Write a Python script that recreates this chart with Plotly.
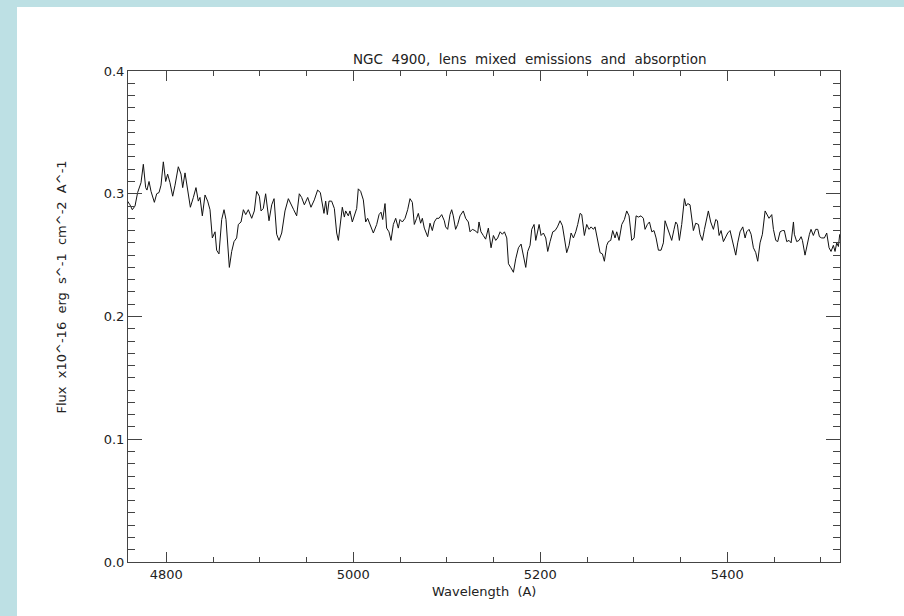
import plotly.graph_objects as go

wavelength = [
    4757.6, 4761.1, 4763.6, 4766.5, 4769.3, 4772.9, 4775.4, 4777.9, 4779.3, 4781.5,
    4783.6, 4787.2, 4789.7, 4792.2, 4794.3, 4796.8, 4799.3, 4801.4, 4803.9, 4806.8,
    4809.3, 4812.8, 4815.7, 4817.5, 4820.0, 4822.5, 4825.7, 4828.9, 4831.7, 4834.2,
    4836.0, 4838.5, 4841.4, 4844.2, 4846.7, 4849.2, 4852.1, 4853.8, 4856.3, 4859.2,
    4861.7, 4863.8, 4867.4, 4869.9, 4872.4, 4875.2, 4877.0, 4879.9, 4882.4, 4884.9,
    4887.7, 4891.3, 4894.1, 4896.6, 4899.5, 4901.3, 4903.7, 4906.2, 4909.8, 4912.7,
    4915.2, 4918.0, 4920.5, 4923.4, 4926.9, 4930.5, 4933.3, 4936.2, 4939.4, 4942.2,
    4944.7, 4947.6,
    4951.2, 4954.7, 4958.3, 4961.8, 4964.7, 4966.8, 4968.6, 4970.4, 4972.2, 4974.0,
    4976.8, 4979.7, 4982.2, 4984.0, 4986.1, 4988.2, 4990.4, 4991.8, 4994.6, 4996.4,
    4998.9, 5001.8, 5003.6, 5005.3, 5007.8, 5010.7, 5013.2, 5015.3, 5017.8, 5021.4,
    5025.0, 5027.5, 5029.6, 5031.4, 5033.9, 5035.6, 5038.1, 5040.3, 5042.8, 5045.3,
    5048.1, 5049.9, 5052.4, 5055.3, 5058.1, 5060.6, 5063.1, 5065.2, 5067.7, 5069.5,
    5072.0, 5073.8, 5075.9, 5079.5, 5082.0, 5084.5, 5086.6, 5089.1, 5091.6, 5094.5,
    5097.3, 5098.7, 5100.9, 5103.4, 5105.2, 5106.9, 5109.4, 5111.6, 5114.1, 5117.6,
    5120.1, 5123.0, 5124.8, 5127.3, 5130.1, 5133.0, 5134.4, 5136.5, 5139.0, 5141.5,
    5144.4,
    5147.3, 5149.8, 5152.3, 5154.4, 5157.0, 5159.4, 5161.6, 5164.1, 5165.9, 5168.3,
    5171.2, 5173.7, 5176.6, 5179.4, 5181.9, 5184.4, 5186.5, 5189.0, 5190.8, 5193.3,
    5195.1, 5197.2, 5198.7, 5200.8, 5203.3, 5205.8, 5207.9, 5210.4, 5213.3, 5215.8,
    5218.3, 5221.1, 5223.6, 5225.7, 5228.2, 5230.7, 5232.9, 5235.4, 5237.9, 5240.0,
    5242.5, 5244.3, 5247.1, 5249.6, 5252.1, 5254.3, 5256.8, 5258.5, 5261.4, 5263.9,
    5266.4, 5268.5, 5271.0, 5272.8, 5275.3, 5277.4, 5279.9, 5281.7, 5284.2, 5287.1,
    5289.9, 5292.4, 5294.9, 5297.8, 5300.3, 5302.4, 5304.9, 5307.7, 5310.2, 5312.0,
    5314.5, 5316.7, 5319.2, 5321.6, 5323.8, 5326.3, 5329.1, 5331.6,
    5333.4, 5336.3, 5338.7, 5340.5, 5343.0, 5344.8, 5346.6, 5348.7, 5351.2, 5353.0,
    5354.1, 5355.9, 5357.6, 5360.1, 5361.9, 5363.7, 5366.2, 5369.1, 5370.8, 5373.3,
    5375.5, 5378.0, 5379.7, 5382.2, 5385.1, 5387.6, 5389.4, 5391.2, 5393.3, 5395.8,
    5398.3, 5400.4, 5402.9, 5404.7, 5406.8, 5409.0, 5411.1, 5413.6, 5416.5, 5419.0,
    5420.7, 5423.2, 5425.4, 5427.9, 5430.4, 5432.5, 5435.0, 5437.5, 5440.4, 5442.5,
    5444.6, 5447.5, 5449.3, 5451.8, 5453.9, 5456.4, 5458.9, 5461.0, 5463.5, 5466.0,
    5468.2, 5470.7, 5471.7, 5474.2, 5476.7, 5478.9, 5480.3, 5483.1, 5486.0, 5487.8,
    5489.5, 5492.0, 5494.5, 5496.7, 5498.5, 5500.9, 5503.8, 5506.3, 5508.8, 5510.9,
    5513.4, 5515.2, 5517.0, 5518.8, 5520.2,
]

flux = [
    0.295, 0.291, 0.287, 0.290, 0.301, 0.309, 0.324, 0.305, 0.303, 0.310,
    0.302, 0.293, 0.300, 0.301, 0.307, 0.326, 0.310, 0.316, 0.309, 0.298,
    0.307, 0.322, 0.316, 0.305, 0.317, 0.306, 0.289, 0.297, 0.305, 0.294,
    0.297, 0.282, 0.299, 0.294, 0.287, 0.264, 0.269, 0.254, 0.251, 0.279,
    0.287, 0.279, 0.240, 0.253, 0.261, 0.264, 0.275, 0.277, 0.287, 0.283,
    0.287, 0.280, 0.286, 0.302, 0.298, 0.286, 0.288, 0.300, 0.278, 0.291,
    0.296, 0.267, 0.262, 0.268, 0.286, 0.296, 0.292, 0.287, 0.282, 0.300,
    0.297, 0.291,
    0.297, 0.289, 0.295, 0.303, 0.301, 0.290, 0.284, 0.294, 0.283, 0.294,
    0.294, 0.288, 0.268, 0.262, 0.275, 0.289, 0.281, 0.286, 0.282, 0.286,
    0.277, 0.284, 0.288, 0.304, 0.302, 0.295, 0.277, 0.280, 0.275, 0.268,
    0.275, 0.283, 0.285, 0.279, 0.292, 0.272, 0.269, 0.262, 0.275, 0.280,
    0.272, 0.279, 0.277, 0.280, 0.287, 0.296, 0.293, 0.275, 0.280, 0.284,
    0.276, 0.280, 0.272, 0.265, 0.276, 0.270, 0.277, 0.280, 0.280, 0.283,
    0.278, 0.273, 0.271, 0.283, 0.287, 0.282, 0.271, 0.275, 0.282, 0.286,
    0.280, 0.277, 0.269, 0.271, 0.270, 0.268, 0.277, 0.269, 0.266, 0.263,
    0.272,
    0.256, 0.266, 0.262, 0.264, 0.269, 0.267, 0.269, 0.264, 0.243, 0.240,
    0.236, 0.247, 0.256, 0.259, 0.250, 0.240, 0.253, 0.258, 0.271, 0.275,
    0.262, 0.270, 0.275, 0.266, 0.268, 0.264, 0.253, 0.261, 0.269, 0.270,
    0.273, 0.278, 0.274, 0.264, 0.252, 0.258, 0.268, 0.264, 0.269, 0.275,
    0.284, 0.283, 0.266, 0.275, 0.271, 0.273, 0.271, 0.273, 0.261, 0.252,
    0.251, 0.245, 0.258, 0.261, 0.262, 0.270, 0.264, 0.269, 0.262, 0.275,
    0.279, 0.286, 0.282, 0.262, 0.264, 0.282, 0.281, 0.282, 0.280, 0.271,
    0.275, 0.277, 0.269, 0.270, 0.264, 0.254, 0.254, 0.260,
    0.278, 0.271, 0.267, 0.262, 0.271, 0.277, 0.275, 0.262, 0.275, 0.288,
    0.296, 0.290, 0.292, 0.291, 0.280, 0.270, 0.276, 0.275, 0.267, 0.262,
    0.271, 0.279, 0.286, 0.277, 0.271, 0.279, 0.278, 0.266, 0.270, 0.261,
    0.265, 0.268, 0.270, 0.264, 0.256, 0.250, 0.260, 0.269, 0.273, 0.264,
    0.269, 0.271, 0.267, 0.256, 0.252, 0.245, 0.260, 0.267, 0.286, 0.283,
    0.280, 0.283, 0.271, 0.262, 0.261, 0.269, 0.270, 0.270, 0.261, 0.262,
    0.260, 0.277, 0.267, 0.261, 0.262, 0.265, 0.262, 0.250, 0.262, 0.267,
    0.271, 0.266, 0.271, 0.271, 0.265, 0.264, 0.264, 0.268, 0.256, 0.253,
    0.258, 0.253, 0.260, 0.257, 0.267,
]

title_text = "NGC 4900, lens mixed emissions and absorption"
x_title = "Wavelength (A)"
y_title = "Flux x10^-16 erg s^-1 cm^-2 A^-1"


def wide(s):
    # IDL's plot font uses wide word gaps
    return s.replace(" ", "\u00a0\u00a0")


FONT = "DejaVu Sans"
AXC = "#444444"
TXT = "#222222"
BAND = "#bde0e4"

W, H = 904, 616
L, R, T, B = 128, 840, 71, 562
pw, ph = R - L, B - T

fig = go.Figure()
fig.add_trace(go.Scatter(x=wavelength, y=flux, mode="lines",
                         line=dict(color="#111111", width=1), showlegend=False,
                         hoverinfo="skip"))

axis_common = dict(showgrid=False, zeroline=False, showline=True, linecolor=AXC,
                   linewidth=1, mirror="allticks", ticks="inside", tickcolor=AXC,
                   tickwidth=1, tickfont=dict(family=FONT, size=13, color=TXT))

fig.update_xaxes(range=[4759, 5520.5], tick0=4800, dtick=200, ticklen=10,
                 minor=dict(dtick=50, tick0=4800, ticks="inside", ticklen=5,
                            tickcolor=AXC, tickwidth=1, showgrid=False),
                 **axis_common)
fig.update_yaxes(range=[0, 0.4], tick0=0, dtick=0.1, tickformat=".1f", ticklen=14,
                 minor=dict(dtick=0.01, tick0=0, ticks="inside", ticklen=7,
                            tickcolor=AXC, tickwidth=1, showgrid=False),
                 **axis_common)

# light-blue page frame (top and left bands)
fig.add_shape(type="rect", xref="paper", yref="paper",
              x0=-L / pw, x1=(W - L) / pw, y0=1 + (T - 7) / ph, y1=1 + T / ph,
              fillcolor=BAND, line=dict(width=0), layer="below")
fig.add_shape(type="rect", xref="paper", yref="paper",
              x0=-L / pw, x1=(17 - L) / pw, y0=-(H - B) / ph, y1=1 + T / ph,
              fillcolor=BAND, line=dict(width=0), layer="below")

fig.add_annotation(text=wide(title_text), xref="paper", yref="paper",
                   x=(529.5 - L) / pw, y=1 + (T - 59) / ph, xanchor="center",
                   yanchor="middle", showarrow=False,
                   font=dict(family=FONT, size=13.5, color=TXT))
fig.add_annotation(text=wide(x_title), xref="paper", yref="paper",
                   x=(483.5 - L) / pw, y=-(591 - B) / ph, xanchor="center",
                   yanchor="middle", showarrow=False,
                   font=dict(family=FONT, size=13, color=TXT))
fig.add_annotation(text=wide(y_title), xref="paper", yref="paper",
                   x=-(L - 61) / pw, y=(B - 287.5) / ph, xanchor="center",
                   yanchor="middle", textangle=-90, showarrow=False,
                   font=dict(family=FONT, size=13, color=TXT))

fig.update_layout(width=W, height=H, margin=dict(l=L, r=W - R, t=T, b=H - B),
                  paper_bgcolor="white", plot_bgcolor="white")

fig.write_html("out.html")
